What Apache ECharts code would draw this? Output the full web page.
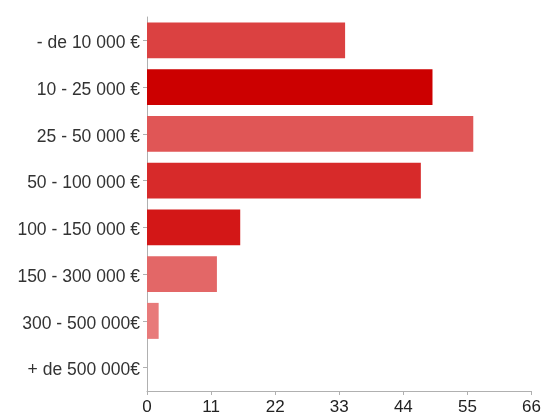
<!DOCTYPE html>
<html>
<head>
    <meta charset="utf-8">
    <script src="https://cdn.jsdelivr.net/npm/echarts@6/dist/echarts.min.js"></script>
    <style>
        html, body { margin: 0; padding: 0; background: #fff; }
    </style>
</head>
<body>
<div id="chart" style="width: 544px;height:416px;"></div>
<script>
  // tranches de revenus (de haut en bas)
  var categories = ['- de 10 000 €', '10 - 25 000 €', '25 - 50 000 €', '50 - 100 000 €',
    '100 - 150 000 €', '150 - 300 000 €', '300 - 500 000€', '+ de 500 000€'];
  var values = [34, 49, 56, 47, 16, 12, 2, 0];
  var barColors = ['#db4141', '#cc0000', '#e05656', '#d72a2a', '#d31717', '#e36767', '#e87a7a', '#ea8a8a'];
  var xTicks = [0, 11, 22, 33, 44, 55, 66];

  var myChart = echarts.init(document.getElementById('chart'));
  var option = {
    animation: false,
    grid: { left: 147, right: 12, top: 17, bottom: 21 },
    xAxis: {
      type: 'value',
      min: xTicks[0],
      max: xTicks[xTicks.length - 1],
      interval: xTicks[1] - xTicks[0],
      axisLine: { show: true, lineStyle: { color: '#b0b0b0' } },
      axisTick: { show: true, length: 4, lineStyle: { color: '#b0b0b0' } },
      splitLine: { show: false },
      axisLabel: { color: '#222', fontSize: 17, fontFamily: 'Liberation Sans', margin: 8 }
    },
    yAxis: {
      type: 'category',
      inverse: true,
      data: categories,
      axisLine: { show: true, lineStyle: { color: '#b0b0b0' } },
      axisTick: { show: true, length: 4, alignWithLabel: true, lineStyle: { color: '#b0b0b0' } },
      axisLabel: {
        margin: 7,
        formatter: function (v) { return '{t|' + v + '}'; },
        rich: {
          t: { color: '#333', fontSize: 17.5, fontFamily: 'Liberation Sans', height: 18, padding: [6, 0, 0, 0] }
        }
      }
    },
    series: [{
      type: 'bar',
      data: values.map(function (v, i) {
        return { value: v, itemStyle: { color: barColors[i] } };
      }),
      barCategoryGap: '23%'
    }]
  };
  myChart.setOption(option);
</script>
</body>
</html>
